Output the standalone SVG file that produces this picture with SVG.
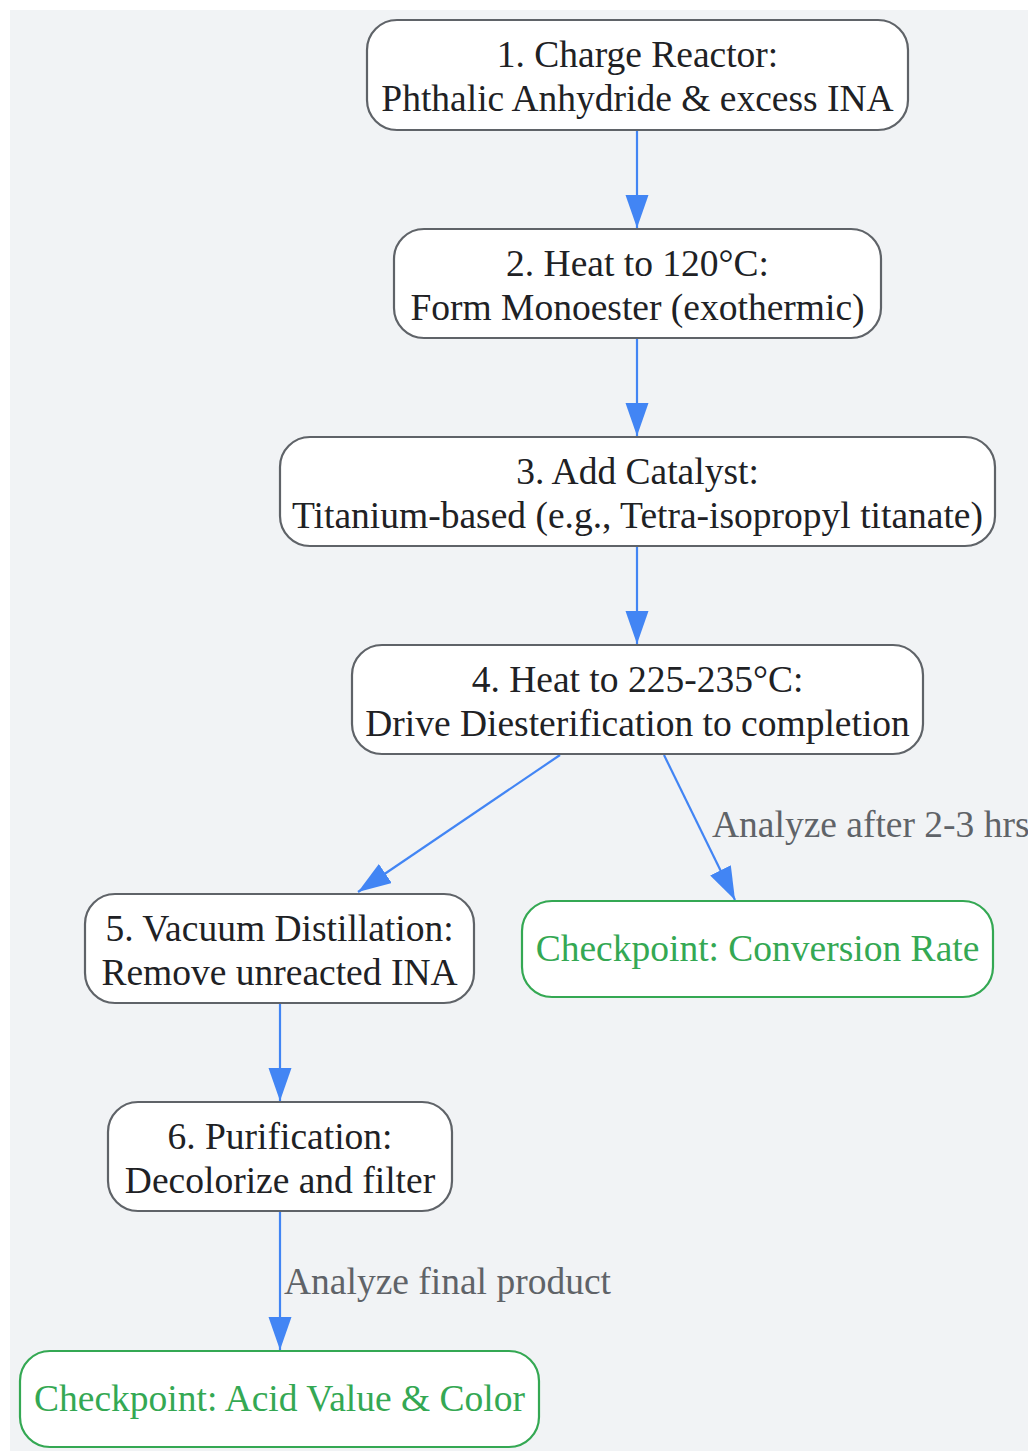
<svg xmlns="http://www.w3.org/2000/svg" width="1028" height="1451" viewBox="0 0 1028 1451">
<style>
.node rect{fill:#ffffff;stroke:#5f6368;stroke-width:2.2}
.check rect{fill:#ffffff;stroke:#34a853;stroke-width:2.2}
text{font-family:"Liberation Serif","Times New Roman",serif;font-size:37.5px;text-anchor:middle}
.node text{fill:#202124}
.check text{fill:#34a853}
.edge{stroke:#4285f4;stroke-width:2.2;fill:none}
.elabel{fill:#5f6368;text-anchor:start}
</style>
<defs>
<marker id="arrow" markerUnits="userSpaceOnUse" markerWidth="34" markerHeight="24" refX="33" refY="11.5" orient="auto">
<path d="M0,0 L33,11.5 L0,23 z" fill="#4285f4"/>
</marker>
</defs>
<rect x="10" y="10" width="1018" height="1441" fill="#f1f3f5"/>
<g id="edges">
<line class="edge" x1="637" y1="130" x2="637" y2="228" marker-end="url(#arrow)"/>
<line class="edge" x1="637" y1="338" x2="637" y2="436" marker-end="url(#arrow)"/>
<line class="edge" x1="637" y1="546" x2="637" y2="644" marker-end="url(#arrow)"/>
<line class="edge" x1="560" y1="755" x2="358" y2="892" marker-end="url(#arrow)"/>
<line class="edge" x1="664" y1="755" x2="735" y2="900" marker-end="url(#arrow)"/>
<line class="edge" x1="280" y1="1003" x2="280" y2="1101" marker-end="url(#arrow)"/>
<line class="edge" x1="280" y1="1211" x2="280" y2="1350" marker-end="url(#arrow)"/>
<text class="elabel" x="712" y="837">Analyze after 2-3 hrs</text>
<text class="elabel" x="284" y="1294">Analyze final product</text>
</g>
<g id="n1" class="node">
<rect x="367" y="20" width="541" height="110" rx="30"/>
<text x="637.5" y="67">1. Charge Reactor:</text>
<text x="637.5" y="111">Phthalic Anhydride &amp; excess INA</text>
</g>
<g id="n2" class="node">
<rect x="394" y="229" width="487" height="109" rx="30"/>
<text x="637.5" y="276">2. Heat to 120°C:</text>
<text x="637.5" y="320">Form Monoester (exothermic)</text>
</g>
<g id="n3" class="node">
<rect x="280" y="437" width="715" height="109" rx="30"/>
<text x="637.5" y="484">3. Add Catalyst:</text>
<text x="637.5" y="528">Titanium-based (e.g., Tetra-isopropyl titanate)</text>
</g>
<g id="n4" class="node">
<rect x="352" y="645" width="571" height="109" rx="30"/>
<text x="637.5" y="692">4. Heat to 225-235°C:</text>
<text x="637.5" y="736">Drive Diesterification to completion</text>
</g>
<g id="n5" class="node">
<rect x="85" y="894" width="389" height="109" rx="30"/>
<text x="279.5" y="941">5. Vacuum Distillation:</text>
<text x="279.5" y="985">Remove unreacted INA</text>
</g>
<g id="c1" class="check">
<rect x="522" y="901" width="471" height="96" rx="30"/>
<text x="757.5" y="961">Checkpoint: Conversion Rate</text>
</g>
<g id="n6" class="node">
<rect x="108" y="1102" width="344" height="109" rx="30"/>
<text x="280" y="1149">6. Purification:</text>
<text x="280" y="1193">Decolorize and filter</text>
</g>
<g id="c2" class="check">
<rect x="20" y="1351" width="519" height="96" rx="30"/>
<text x="279.5" y="1411">Checkpoint: Acid Value &amp; Color</text>
</g>
</svg>
